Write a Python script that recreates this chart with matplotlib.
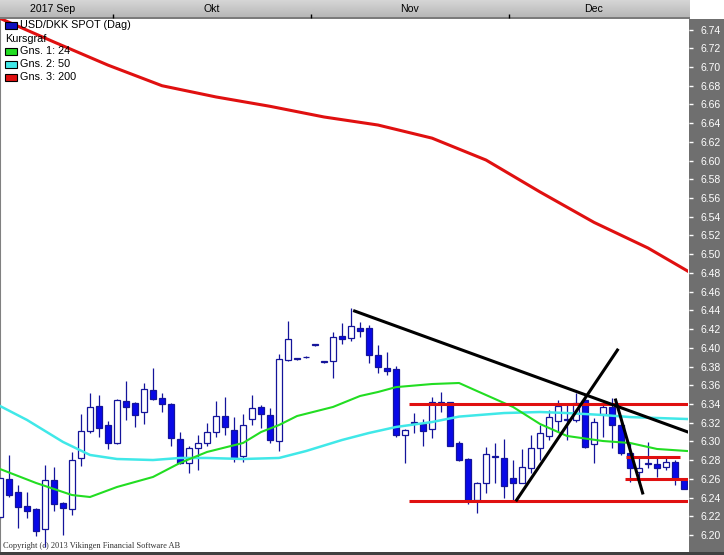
import numpy as np
import matplotlib.pyplot as plt
from matplotlib.patches import Rectangle
from matplotlib.colors import LinearSegmentedColormap

W, H = 724, 555

# USD/DKK daily candles, mid Sep - end Dec 2017 (index 0..76)
opens = [6.219, 6.260, 6.246, 6.231, 6.228, 6.206, 6.259, 6.234, 6.228, 6.282,
         6.311, 6.338, 6.318, 6.298, 6.343, 6.341, 6.331, 6.355, 6.346, 6.340,
         6.303, 6.277, 6.293, 6.298, 6.310, 6.327, 6.312, 6.284, 6.324, 6.337,
         6.328, 6.300, 6.387, 6.388, 6.390, 6.403, 6.385, 6.386, 6.413, 6.410,
         6.421, 6.421, 6.392, 6.378, 6.377, 6.307, 6.320, 6.319, 6.313, 6.340,
         6.342, 6.298, 6.281, 6.237, 6.256, 6.283, 6.282, 6.261, 6.256, 6.272,
         6.293, 6.306, 6.322, 6.323, 6.323, 6.344, 6.297, 6.329, 6.337, 6.317,
         6.288, 6.267, 6.276, 6.276, 6.273, 6.278, 6.259]
highs = [6.262, 6.285, 6.253, 6.246, 6.229, 6.275, 6.273, 6.235, 6.289, 6.329,
         6.352, 6.350, 6.322, 6.345, 6.364, 6.342, 6.362, 6.378, 6.352, 6.341,
         6.310, 6.295, 6.307, 6.320, 6.343, 6.347, 6.326, 6.329, 6.350, 6.339,
         6.336, 6.393, 6.429, 6.389, 6.391, 6.404, 6.386, 6.417, 6.427, 6.442,
         6.428, 6.424, 6.403, 6.395, 6.381, 6.313, 6.330, 6.324, 6.347, 6.353,
         6.342, 6.300, 6.282, 6.257, 6.294, 6.298, 6.303, 6.280, 6.292, 6.307,
         6.318, 6.334, 6.344, 6.341, 6.352, 6.350, 6.325, 6.341, 6.346, 6.328,
         6.298, 6.283, 6.299, 6.283, 6.282, 6.280, 6.261]
lows = [6.217, 6.241, 6.208, 6.218, 6.199, 6.187, 6.226, 6.200, 6.221, 6.274,
        6.309, 6.305, 6.292, 6.297, 6.323, 6.315, 6.319, 6.344, 6.331, 6.295,
        6.276, 6.266, 6.269, 6.295, 6.305, 6.307, 6.278, 6.278, 6.317, 6.314,
        6.298, 6.290, 6.386, 6.387, 6.389, 6.402, 6.384, 6.368, 6.404, 6.407,
        6.412, 6.384, 6.373, 6.371, 6.305, 6.277, 6.309, 6.295, 6.304, 6.331,
        6.295, 6.279, 6.233, 6.224, 6.245, 6.256, 6.240, 6.237, 6.256, 6.266,
        6.280, 6.302, 6.310, 6.302, 6.321, 6.293, 6.277, 6.305, 6.293, 6.286,
        6.257, 6.256, 6.272, 6.262, 6.269, 6.253, 6.249]
closes = [6.261, 6.243, 6.230, 6.226, 6.204, 6.259, 6.233, 6.229, 6.280, 6.311,
          6.337, 6.314, 6.298, 6.344, 6.337, 6.328, 6.356, 6.345, 6.340, 6.304,
          6.277, 6.293, 6.298, 6.310, 6.327, 6.315, 6.282, 6.317, 6.336, 6.329,
          6.302, 6.388, 6.409, 6.388, 6.390, 6.403, 6.385, 6.412, 6.409, 6.423,
          6.418, 6.392, 6.380, 6.375, 6.307, 6.312, 6.321, 6.311, 6.342, 6.342,
          6.295, 6.280, 6.237, 6.256, 6.287, 6.284, 6.252, 6.256, 6.273, 6.293,
          6.309, 6.326, 6.338, 6.324, 6.341, 6.294, 6.321, 6.337, 6.317, 6.288,
          6.272, 6.272, 6.276, 6.272, 6.278, 6.260, 6.249]

# moving averages (candle index, value)
ma24_idx = [0, 4, 8, 10, 13, 17, 20, 23, 27, 29, 31, 33, 37, 40, 42, 44, 48,
            51, 53, 57, 60, 63, 67, 70, 73, 76.4]
ma24_val = [6.2705, 6.2556, 6.2427, 6.2406, 6.2513, 6.262, 6.277, 6.2887,
            6.2983, 6.310, 6.3175, 6.3271, 6.3368, 6.3485, 6.3528, 6.358,
            6.3613, 6.3624, 6.3538, 6.3368, 6.3186, 6.3058, 6.3004, 6.2983,
            6.2919, 6.2897]
ma50_idx = [0, 3, 7, 10, 13, 17, 20, 23, 27, 31, 34, 38, 41, 44, 48, 51, 56,
            60, 63, 67, 70, 73, 76.4]
ma50_val = [6.3378, 6.3229, 6.2994, 6.2855, 6.2812, 6.2801, 6.2823, 6.2823,
            6.2812, 6.2823, 6.2897, 6.3015, 6.309, 6.3154, 6.3207, 6.3265,
            6.3303, 6.3314, 6.3303, 6.3282, 6.326, 6.325, 6.3239]
ma200_idx = [0, 6, 12, 18, 24, 30, 36, 42, 48, 54, 60, 66, 72, 76.4]
ma200_val = [6.752, 6.7267, 6.702, 6.680, 6.668, 6.658, 6.6466, 6.638, 6.624,
             6.6006, 6.5665, 6.534, 6.5066, 6.482]

# drawn trend lines ((x0, y0), (x1, y1)) and horizontal levels (y, x0, x1)
trend_lines = [((39.4, 6.4393), (76.44, 6.310)),
               ((57.4, 6.2374), (68.6, 6.3976)),
               ((68.4, 6.3442), (71.4, 6.2449))]
levels = [(6.340, 45.4, 76.44), (6.2363, 45.4, 76.44),
          (6.2833, 69.6, 75.6), (6.2598, 69.4, 76.44)]

months = ['2017 Sep', 'Okt', 'Nov', 'Dec']
month_pos = [5.8, 23.5, 45.5, 65.9]
month_breaks = [12.5, 34.5, 56.5]

legend_items = [('USD/DKK SPOT (Dag)', '#1010c0'), ('Kursgraf', None),
                ('Gns. 1: 24', '#22dd22'), ('Gns. 2: 50', '#40e8e8'),
                ('Gns. 3: 200', '#e01010')]

plt.rcParams['font.family'] = ['Liberation Sans', 'DejaVu Sans']

fig = plt.figure(figsize=(W / 100, H / 100), dpi=100)


def fx(px):
    return px / W


def fy(py):
    return 1 - py / H


ymin = 6.20 - (552 - 535) / 936
ymax = 6.20 + (535 - 19) / 936

ax = fig.add_axes([0, fy(552), fx(688), (552 - 19) / H])
ax.set_xlim(0, 76.44)
ax.set_ylim(ymin, ymax)
ax.set_xticks([])
ax.set_yticks([])
for side, s in ax.spines.items():
    s.set_visible(side == 'left')
ax.spines['left'].set_color('#808080')
ax.spines['left'].set_linewidth(1.5)

o = np.array(opens)
hi = np.array(highs)
lo = np.array(lows)
c = np.array(closes)
idx = np.arange(len(o))
up = c >= o
bottom = np.minimum(o, c)
height = np.maximum(np.abs(c - o), 0.0006)

edge = '#14149a'
ax.vlines(idx, lo, hi, color=edge, lw=0.9, zorder=2)
ax.bar(idx[up], height[up], 0.74, bottom[up], facecolor='white',
       edgecolor=edge, lw=0.9, zorder=3)
ax.bar(idx[~up], height[~up], 0.74, bottom[~up], facecolor='#0808e8',
       edgecolor=edge, lw=0.9, zorder=3)

ax.plot(ma200_idx, ma200_val, color='#e01010', lw=2.2, zorder=4)
ax.plot(ma50_idx, ma50_val, color='#40e8e8', lw=1.8, zorder=4)
ax.plot(ma24_idx, ma24_val, color='#22dd22', lw=1.5, zorder=4)

for y, x0, x1 in levels:
    ax.plot([x0, x1], [y, y], color='#e01010', lw=2.2, zorder=5,
            solid_capstyle='butt')
for (x0, y0), (x1, y1) in trend_lines:
    ax.plot([x0, x1], [y0, y1], color='black', lw=2.2, zorder=6)

# right value axis
axr = fig.add_axes([fx(689), fy(552), fx(724) - fx(689), (552 - 19) / H])
axr.set_facecolor('#6f6f6f')
axr.set_ylim(ymin, ymax)
axr.set_xticks([])
yt = np.round(np.arange(6.20, 6.745, 0.02), 2)
axr.set_yticks(yt)
axr.set_yticklabels([f'{v:.2f}' for v in yt])
axr.tick_params(axis='y', direction='in', length=3, width=1, color='white',
                labelcolor='white', pad=-8, labelsize=7.5)
for t in axr.get_yticklabels():
    t.set_ha('left')
for s in axr.spines.values():
    s.set_visible(False)

# month bar on top
axt = fig.add_axes([0, fy(19), fx(690), 19 / H])
cmap = LinearSegmentedColormap.from_list('bar', ['#d6d6d6', '#b4b4b4'])
axt.imshow(np.linspace(0, 1, 40).reshape(-1, 1), aspect='auto', cmap=cmap,
           extent=[0, 690 / 9, 0, 1])
axt.set_xlim(0, 690 / 9)
axt.set_ylim(0, 1)
axt.axis('off')
axt.axhline(0.03, color='#707070', lw=1.2)
axt.vlines(month_breaks, 0.05, 0.26, color='black', lw=1)
for name, x in zip(months, month_pos):
    axt.text(x, 0.5, name, ha='center', va='center', fontsize=7.6,
             color='black')

# legend in the upper left corner
rows = [25, 38.5, 51.5, 64, 77]
for (label, col), ry in zip(legend_items, rows):
    if col is None:
        fig.text(fx(5), fy(ry), label, fontsize=7.8, va='center')
        continue
    fig.add_artist(Rectangle((fx(5), fy(ry + 3.5)), 12 / W, 7 / H,
                             facecolor=col, edgecolor='black', lw=0.8,
                             transform=fig.transFigure))
    fig.text(fx(20), fy(ry), label, fontsize=7.8, va='center')

fig.text(fx(3), fy(546), 'Copyright (c) 2013 Vikingen Financial Software AB',
         fontsize=6, family='Liberation Serif', va='center', color='#303030')

fig.add_artist(Rectangle((0, 0), 1, 3 / H, facecolor='#404040',
                         edgecolor='none', transform=fig.transFigure))

fig.savefig('out.png', dpi=100)
